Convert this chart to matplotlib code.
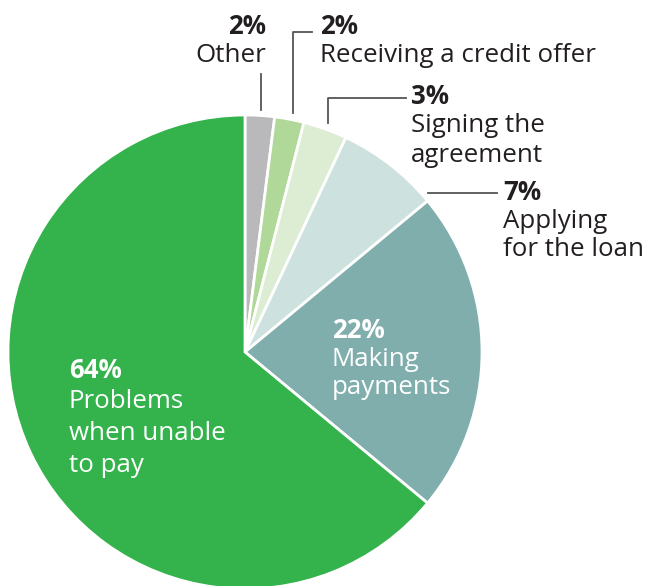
import matplotlib.pyplot as plt

# data
categories = ["Other", "Receiving a credit offer", "Signing the agreement",
              "Applying for the loan", "Making payments", "Problems when unable to pay"]
values = [2, 2, 3, 7, 22, 64]
colors = ["#B9B9BB", "#B0D898", "#DCEDD3", "#CDE1DF", "#80AEAD", "#34B34C"]

plt.rcParams['font.family'] = ['Open Sans', 'DejaVu Sans']

W, H = 649, 586
fig = plt.figure(figsize=(W / 100, H / 100), dpi=100)

# pie center (245, 352) px, radius 237 px
cx, cy, r = 245, 352, 237
ax = fig.add_axes([(cx - r) / W, (H - cy - r) / H, 2 * r / W, 2 * r / H])
ax.pie(values, colors=colors, startangle=90, counterclock=False,
       wedgeprops=dict(edgecolor="white", linewidth=2))
ax.set_xlim(-1, 1)
ax.set_ylim(-1, 1)
ax.set_aspect("equal")
ax.axis("off")


def p(x, y):
    # pixel -> data coords
    return (x - cx) / r, (cy - y) / r


dark = "#231F20"
fs = 18.6


def label(x, y, lines, ha="left", color=dark, step=29):
    for i, t in enumerate(lines):
        ax.text(*p(x, y + 3 + i * step), t, ha=ha, va="center", fontsize=fs,
                color=color, fontweight="bold" if i == 0 else "normal",
                clip_on=False)


label(266, 23, ["2%", "Other"], ha="right")
label(320, 23, ["2%", "Receiving a credit offer"])
label(411, 94, ["3%", "Signing the", "agreement"])
label(503, 189, ["7%", "Applying", "for the loan"])
label(332, 327, ["22%", "Making", "payments"], color="white")
label(69, 367, ["64%", "Problems", "when unable", "to pay"], color="white", step=32)

# leader lines
lc = dict(color="#555555", lw=1.3, clip_on=False)
ax.plot(*zip(p(261, 110), p(261, 74)), **lc)
ax.plot(*zip(p(293, 113), p(293, 32), p(312, 32)), **lc)
ax.plot(*zip(p(328, 123), p(328, 98), p(406, 98)), **lc)
ax.plot(*zip(p(428, 193), p(497, 193)), **lc)

fig.savefig("out.png", dpi=100)
